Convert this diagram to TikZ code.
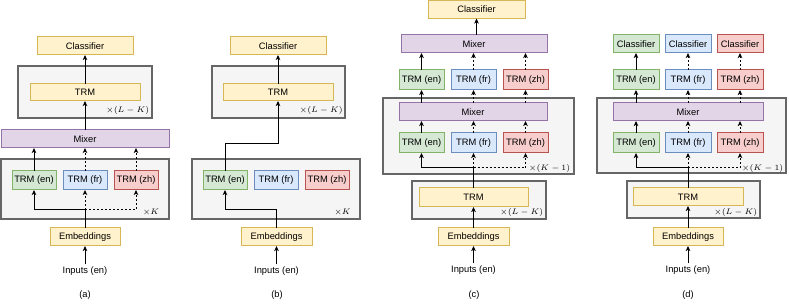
\documentclass[tikz,border=0pt]{standalone}
\usepackage{fontspec}
\setmainfont{Liberation Sans}
\usetikzlibrary{arrows.meta}
\definecolor{yfill}{HTML}{FFF2CC}\definecolor{ystroke}{HTML}{D6B656}
\definecolor{gfill}{HTML}{D5E8D4}\definecolor{gstroke}{HTML}{82B366}
\definecolor{bfill}{HTML}{DAE8FC}\definecolor{bstroke}{HTML}{6C8EBF}
\definecolor{rfill}{HTML}{F8CECC}\definecolor{rstroke}{HTML}{B85450}
\definecolor{pfill}{HTML}{E1D5E7}\definecolor{pstroke}{HTML}{9673A6}
\definecolor{grfill}{HTML}{F5F5F5}\definecolor{grstroke}{HTML}{666666}
\newcommand\bx[7]{\node[#1, minimum width={(#5-#3)*0.75pt}, minimum height={(#6-#4)*0.75pt}] (#2) at ({(#3+#5)/2},{(#4+#6)/2}) {#7};}
\tikzset{
  base/.style={inner sep=0pt, outer sep=0pt, line width=0.75pt, font=\fontsize{7}{8}\selectfont},
  ybox/.style={base, draw=ystroke, fill=yfill},
  gbox/.style={base, draw=gstroke, fill=gfill},
  bbox/.style={base, draw=bstroke, fill=bfill},
  rbox/.style={base, draw=rstroke, fill=rfill},
  pbox/.style={base, draw=pstroke, fill=pfill},
  graybox/.style={base, draw=grstroke, fill=grfill, line width=1.3pt},
  txt/.style={inner sep=1.5pt, font=\fontsize{7}{8}\selectfont},
  mlab/.style={inner sep=0pt, anchor=east, font=\fontsize{6.3}{7}\selectfont},
  arr/.style={draw=black, line width=0.75pt, -{Stealth[length=3.8pt,width=3.4pt,inset=1pt]}},
  darr/.style={arr, dash pattern=on 1.5pt off 1.5pt},
}
\begin{document}
\begin{tikzpicture}[x=0.75pt,y=-0.75pt]
\useasboundingbox (0,0) rectangle (789,306);
% ---------------- panel (a)
\bx{graybox}{gA1}{18}{66}{152}{118}{}
\bx{graybox}{gA2}{1}{159}{169}{219}{}
\bx{ybox}{clsA}{37}{37}{133}{55}{Classifier}
\bx{ybox}{trmA}{30}{84}{140}{101}{TRM}
\bx{pbox}{mixA}{1}{130}{169}{148}{Mixer}
\bx{gbox}{enA}{12}{171}{56}{190}{TRM (en)}
\bx{bbox}{frA}{63}{171}{107}{190}{TRM (fr)}
\bx{rbox}{zhA}{114}{171}{158}{190}{TRM (zh)}
\bx{ybox}{embA}{50}{228}{120}{246}{Embeddings}
\node[txt] (inA) at (85,271) {Inputs (en)};
\node[txt] (capA) at (85,295) {(a)};
\node[mlab] (lA1) at (149.5,111) {$\times(L-K)$};
\node[mlab] (lA2) at (159.5,212.5) {$\times K$};
\coordinate (brA) at (85,210);
\draw[arr] (inA.north) -- (embA.south);
\draw[arr] (embA.north) -- (brA) -| (enA.south);
\draw[darr] (brA) -- (frA.south);
\draw[darr] (brA) -| (zhA.south);
\draw[arr] (enA.north) -- (enA.north |- mixA.south);
\draw[darr] (frA.north) -- (frA.north |- mixA.south);
\draw[darr] (zhA.north) -- (zhA.north |- mixA.south);
\draw[arr] (mixA.north) -- (trmA.south);
\draw[arr] (trmA.north) -- (clsA.south);
% ---------------- panel (b)
\bx{graybox}{gB1}{212}{66}{345}{118}{}
\bx{graybox}{gB2}{192}{159}{360}{219}{}
\bx{ybox}{clsB}{230}{37}{326}{55}{Classifier}
\bx{ybox}{trmB}{223}{84}{333}{101}{TRM}
\bx{gbox}{enB}{203}{171}{247}{190}{TRM (en)}
\bx{bbox}{frB}{254}{171}{298}{190}{TRM (fr)}
\bx{rbox}{zhB}{305}{171}{349}{190}{TRM (zh)}
\bx{ybox}{embB}{241}{228}{312}{246}{Embeddings}
\node[txt] (inB) at (276.5,271) {Inputs (en)};
\node[txt] (capB) at (277,295) {(b)};
\node[mlab] (lB1) at (343,111) {$\times(L-K)$};
\node[mlab] (lB2) at (351,212.5) {$\times K$};
\coordinate (brB) at (276.5,210);
\coordinate (kB) at (278,144);
\draw[arr] (inB.north) -- (embB.south);
\draw[arr] (embB.north) -- (brB) -| (enB.south);
\draw[arr] (enB.north) |- (kB) -- (trmB.south);
\draw[arr] (trmB.north) -- (clsB.south);
% ---------------- panel (c)
\bx{graybox}{gC1}{383}{98}{574}{174}{}
\bx{graybox}{gC2}{412}{181}{546}{219}{}
\bx{ybox}{clsC}{428}{0.5}{525}{18.5}{Classifier}
\bx{pbox}{mixC1}{401}{35}{547}{53}{Mixer}
\bx{gbox}{enC1}{399}{70}{444}{90}{TRM (en)}
\bx{bbox}{frC1}{451}{70}{496}{90}{TRM (fr)}
\bx{rbox}{zhC1}{503}{70}{548}{90}{TRM (zh)}
\bx{pbox}{mixC2}{399}{103}{547}{121}{Mixer}
\bx{gbox}{enC2}{399}{133}{444}{153}{TRM (en)}
\bx{bbox}{frC2}{451}{133}{496}{153}{TRM (fr)}
\bx{rbox}{zhC2}{503}{133}{548}{153}{TRM (zh)}
\bx{ybox}{trmC}{419}{188}{528}{207}{TRM}
\bx{ybox}{embC}{438}{228}{509}{246}{Embeddings}
\node[txt] (inC) at (473.5,270) {Inputs (en)};
\node[txt] (capC) at (474,295) {(c)};
\node[mlab] (lC1) at (570.5,168.5) {$\times(K-1)$};
\node[mlab] (lC2) at (543.5,213) {$\times(L-K)$};
\coordinate (brC) at (473.5,168);
\draw[arr] (inC.north) -- (embC.south);
\draw[arr] (embC.north) -- (trmC.south);
\draw[arr] (trmC.north) -- (brC) -| (enC2.south);
\draw[darr] (brC) -- (frC2.south);
\draw[darr] (brC) -| (zhC2.south);
\draw[arr] (enC2.north) -- (enC2.north |- mixC2.south);
\draw[darr] (frC2.north) -- (frC2.north |- mixC2.south);
\draw[darr] (zhC2.north) -- (zhC2.north |- mixC2.south);
\draw[arr] (mixC2.north -| enC1.south) -- (enC1.south);
\draw[darr] (mixC2.north -| frC1.south) -- (frC1.south);
\draw[darr] (mixC2.north -| zhC1.south) -- (zhC1.south);
\draw[arr] (enC1.north) -- (enC1.north |- mixC1.south);
\draw[darr] (frC1.north) -- (frC1.north |- mixC1.south);
\draw[darr] (zhC1.north) -- (zhC1.north |- mixC1.south);
\draw[arr] (mixC1.north -| clsC.south) -- (clsC.south);
% ---------------- panel (d)
\bx{graybox}{gD1}{597}{98}{786}{173}{}
\bx{graybox}{gD2}{627}{181}{760}{218}{}
\bx{gbox}{clsD1}{613}{35}{659}{53}{Classifier}
\bx{bbox}{clsD2}{665}{35}{711}{53}{Classifier}
\bx{rbox}{clsD3}{717}{35}{763}{53}{Classifier}
\bx{gbox}{enD1}{613}{70}{659}{90}{TRM (en)}
\bx{bbox}{frD1}{665}{70}{711}{90}{TRM (fr)}
\bx{rbox}{zhD1}{717}{70}{763}{90}{TRM (zh)}
\bx{pbox}{mixD}{613}{103}{763}{121}{Mixer}
\bx{gbox}{enD2}{613}{133}{659}{153}{TRM (en)}
\bx{bbox}{frD2}{665}{133}{711}{153}{TRM (fr)}
\bx{rbox}{zhD2}{717}{133}{763}{153}{TRM (zh)}
\bx{ybox}{trmD}{633}{188}{743}{206}{TRM}
\bx{ybox}{embD}{653}{228}{723}{246}{Embeddings}
\node[txt] (inD) at (688,270) {Inputs (en)};
\node[txt] (capD) at (688,295) {(d)};
\node[mlab] (lD1) at (783.5,168.5) {$\times(K-1)$};
\node[mlab] (lD2) at (757.5,213) {$\times(L-K)$};
\coordinate (brD) at (688,168);
\draw[arr] (inD.north) -- (embD.south);
\draw[arr] (embD.north) -- (trmD.south);
\draw[arr] (trmD.north) -- (brD) -| (enD2.south);
\draw[darr] (brD) -- (frD2.south);
\draw[darr] (brD) -| (zhD2.south);
\draw[arr] (enD2.north) -- (enD2.north |- mixD.south);
\draw[darr] (frD2.north) -- (frD2.north |- mixD.south);
\draw[darr] (zhD2.north) -- (zhD2.north |- mixD.south);
\draw[arr] (mixD.north -| enD1.south) -- (enD1.south);
\draw[darr] (mixD.north -| frD1.south) -- (frD1.south);
\draw[darr] (mixD.north -| zhD1.south) -- (zhD1.south);
\draw[arr] (enD1.north) -- (clsD1.south);
\draw[darr] (frD1.north) -- (clsD2.south);
\draw[darr] (zhD1.north) -- (zhD1.south |- clsD3.south);
\end{tikzpicture}
\end{document}
